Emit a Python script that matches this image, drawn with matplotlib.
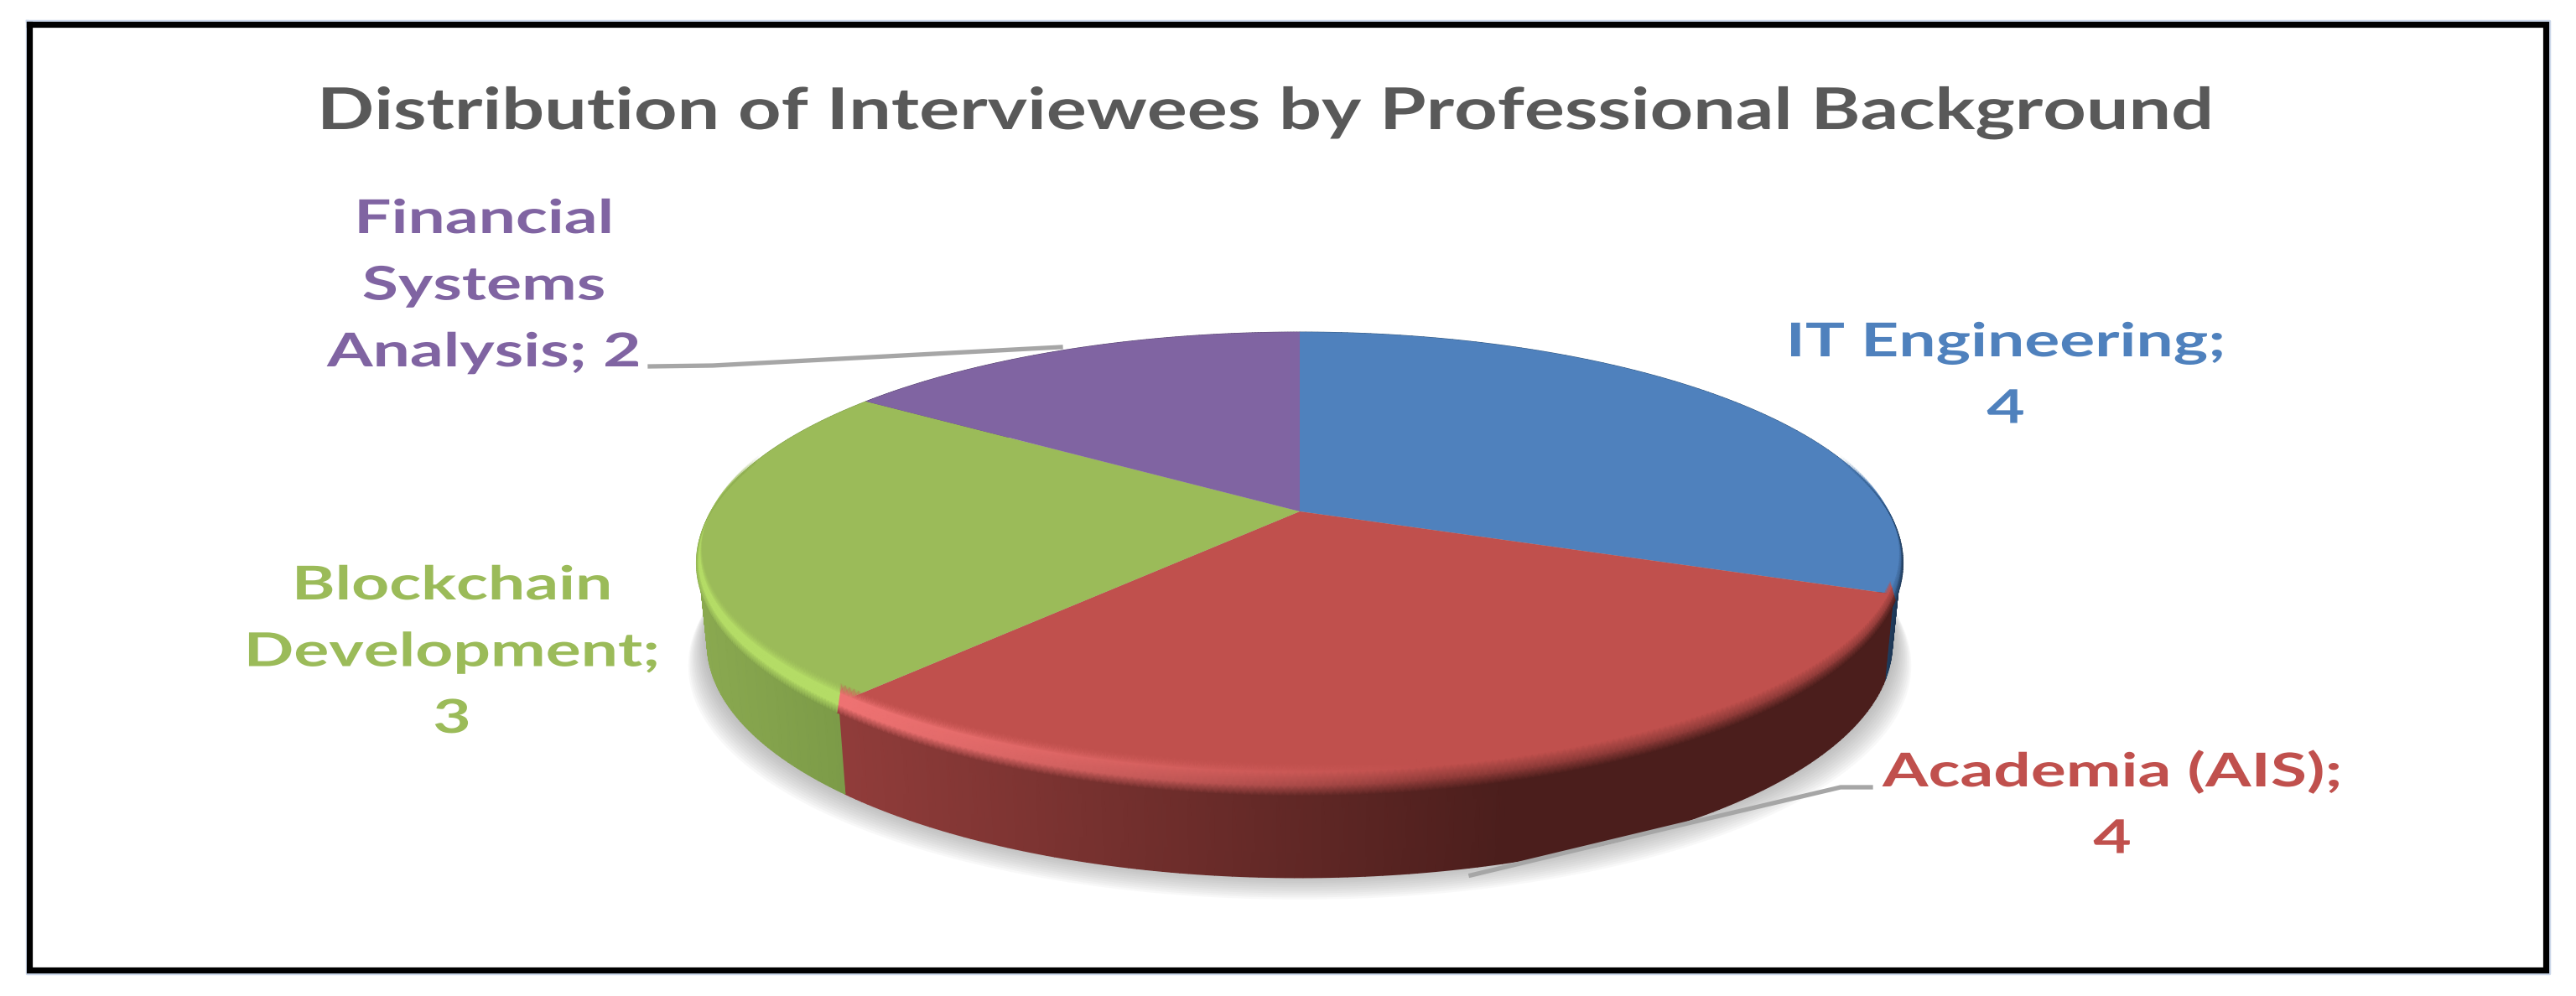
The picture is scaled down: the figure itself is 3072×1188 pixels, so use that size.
import numpy as np
import matplotlib
matplotlib.use("Agg")
import matplotlib.pyplot as plt
from matplotlib.patheffects import AbstractPathEffect
from matplotlib.transforms import Affine2D

# data
categories = ["IT Engineering", "Academia (AIS)", "Blockchain Development", "Financial Systems Analysis"]
values = [4, 4, 3, 2]
title = "Distribution of Interviewees by Professional Background"

# label lines, one list per slice
label_lines = [
    ["IT Engineering;", "4"],
    ["Academia (AIS);", "4"],
    ["Blockchain", "Development;", "3"],
    ["Financial", "Systems", "Analysis; 2"],
]
label_x = [2392, 2519, 539, 577]
label_y = [425, 938, 715, 278]  # baseline of first line
line_gap = 79.5

# colours
face_colors = ["#4F81BD", "#C0504D", "#9BBB59", "#8064A2"]
wall_left = ["#2F5680", "#903C3A", "#8AA950", "#5A4772"]
wall_right = ["#1B3350", "#4B1E1C", "#7B9A47", "#5A4772"]
glow_colors = ["#4F81BD", "#EE7272", "#B4DC66", "#8064A2"]

# pie geometry in pixels (perspective view of a circle)
cx, cy = 1550, 610
A, B, k = 258.0, 702.0, 0.206
wall_h = 100
font = ["Lato", "DejaVu Sans"]


class StretchX(AbstractPathEffect):
    # the picture has its text pulled wide, keep it real text and scale the glyphs
    def __init__(self, x0, sx):
        super().__init__()
        self.x0 = x0
        self.sx = sx

    def draw_path(self, renderer, gc, tpath, affine, rgbFace=None):
        extra = Affine2D().translate(-self.x0, 0).scale(self.sx, 1).translate(self.x0, 0)
        renderer.draw_path(gc, tpath, affine + extra, rgbFace)


def rim(theta):
    u, v = np.sin(theta), np.cos(theta)
    d = 1 + k * v
    return cx + B * u / d, cy - A * v / d, v


def rim_low(theta):
    x, y, v = rim(theta)
    return cx + (x - cx) * 0.985, y + wall_h - 12 * v


def rgb(c):
    return np.array(matplotlib.colors.to_rgb(c))


fig = plt.figure(figsize=(30.72, 11.88), dpi=100, facecolor="white")
ax = fig.add_axes([0, 0, 1, 1])
ax.set_xlim(0, 3072)
ax.set_ylim(1188, 0)
ax.axis("off")

# outer frame
ax.plot([32, 3040, 3040, 32, 32], [25, 25, 1161, 1161, 25], color="#CBD7EA", lw=2.5, zorder=1)
ax.plot([35, 3036, 3036, 35, 35], [29, 29, 1157, 1157, 29], color="black", lw=5.2,
        solid_joinstyle="miter", zorder=2)

# soft shadow under the pie
t_all = np.linspace(0, 2 * np.pi, 361)
for s in np.linspace(1, 0, 14):
    xs, ys = rim_low(t_all)
    ax.fill(cx + (xs - cx) * (1 + 0.032 * s), ys + 32 * s - 6, color="#808080", alpha=0.05, lw=0, zorder=3)

edges = np.concatenate([[0], np.cumsum(values)]) / np.sum(values) * 2 * np.pi

# side walls
for i in range(len(values)):
    t = np.linspace(edges[i], edges[i + 1], 160)
    x1, y1, v = rim(t)
    x2, y2 = rim_low(t)
    X = np.array([x1, x2])
    Y = np.array([y1, y2])
    if i == 1:
        f = np.clip((x1 - 1012) / (1800 - 1012), 0, 1)
    elif i == 2:
        f = np.clip((x1 - 833) / (1012 - 833), 0, 1)
    else:
        f = np.clip((x1 - 2230) / 40, 0, 1)
    c = rgb(wall_left[i])[None, :] * (1 - f[:, None]) + rgb(wall_right[i])[None, :] * f[:, None]
    C = np.stack([c, c], axis=0)
    ax.pcolormesh(X, Y, C, shading="gouraud", zorder=4)

# top faces
for i in range(len(values)):
    t = np.linspace(edges[i], edges[i + 1], 200)
    x, y, v = rim(t)
    ax.fill(np.r_[cx, x], np.r_[cy, y], color=face_colors[i], lw=0, zorder=5)

# bevel along the front rim
rows = np.array([-1.0, -0.5, 0.1, 0.5])
for i in range(len(values)):
    t = np.linspace(edges[i], edges[i + 1], 200)
    x, y, v = rim(t)
    front = np.clip((0.25 - v) / 0.5, 0, 1)
    X = np.array([x + (x - cx) * 0.006 * r for r in rows])
    Y = np.array([y + r * (8 + 20 * np.clip(-v, 0, 1)) for r in rows])
    if i == 1:
        f = np.clip((x - 1012) / (1800 - 1012), 0, 1)
        hl = np.clip(1 - (x - 1012) / 700, 0, 1)
    elif i == 2:
        f = np.clip((x - 833) / (1012 - 833), 0, 1)
        hl = np.clip(front, 0, 1)
    else:
        f = np.clip((x - 2230) / 40, 0, 1)
        hl = 0 * x
    w = rgb(wall_left[i])[None, :] * (1 - f[:, None]) + rgb(wall_right[i])[None, :] * f[:, None]
    fc = rgb(face_colors[i])[None, :] * np.ones((len(t), 1))
    g = rgb(glow_colors[i])[None, :] * np.ones((len(t), 1))
    h = hl[:, None]
    c1 = fc * (1 - h) + g * h
    c2 = g * h + (w * 0.5 + fc * 0.5) * (1 - h)
    C = np.zeros((4, len(t), 4))
    for j, c in enumerate([fc, c1, c2, w]):
        C[j, :, :3] = c
        C[j, :, 3] = front if j else 0
    ax.pcolormesh(X, Y, C, shading="gouraud", zorder=6)

# leader lines
ax.plot([775, 850, 1265], [437, 436, 414], color="#A6A6A6", lw=3.8, zorder=7)
ax.plot([2231, 2195, 2000, 1754], [939, 939, 985, 1044], color="#A6A6A6", lw=3.8, zorder=7)

# text, widths
renderer = fig.canvas.get_renderer()


def stretched_text(x, y, s, size, color, sx=None, target=None):
    txt = ax.text(x, y, s, color=color, fontsize=size, fontweight="bold", family=font,
                  ha="center", va="baseline", zorder=8)
    if target is not None:
        sx = target / txt.get_window_extent(renderer).width
    txt.set_path_effects([StretchX(ax.transData.transform((x, y))[0], sx)])
    return sx


stretched_text(1509, 154, title, 49.5, "#595959", target=2262)
probe = ax.text(0, 0, "Academia (AIS);", fontsize=40, fontweight="bold", family=font)
label_sx = 548 / probe.get_window_extent(renderer).width
probe.remove()
for i in range(len(values)):
    for j, line in enumerate(label_lines[i]):
        stretched_text(label_x[i], label_y[i] + j * line_gap, line, 40, face_colors[i], sx=label_sx)

fig.savefig("out.png", dpi=100, facecolor="white")
